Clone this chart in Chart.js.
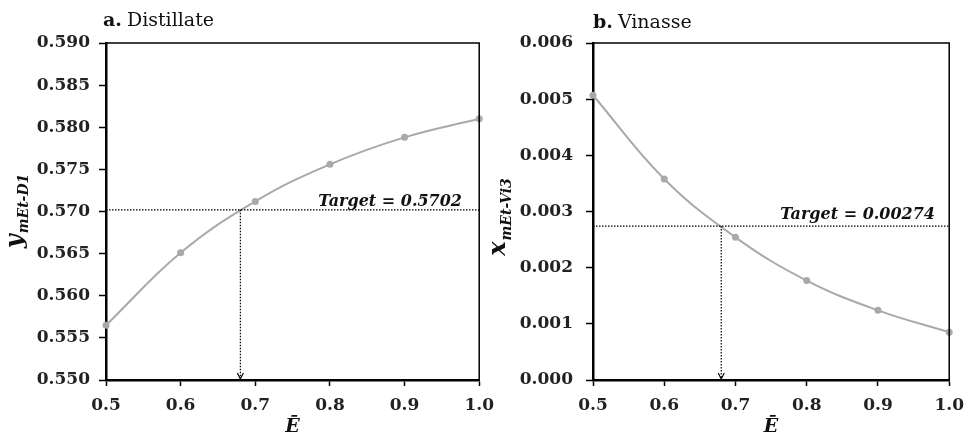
<!DOCTYPE html>
<html>
<head>
<meta charset="utf-8">
<script src="https://cdn.jsdelivr.net/npm/chart.js@4.4.1/dist/chart.umd.min.js"></script>
<style>
    html, body { margin: 0; padding: 0; background: #fff; }
    #wrap { position: relative; width: 965px; height: 436px; overflow: hidden; }
    .panel { position: absolute; top: 0; height: 436px; }
    #panelA { left: 0; width: 503px; }
    #panelB { left: 480px; width: 493px; }
</style>
</head>
<body>
<div id="wrap">
    <div class="panel" id="panelA"><canvas id="chartA"></canvas></div>
    <div class="panel" id="panelB"><canvas id="chartB"></canvas></div>
</div>
<script>
// --- DATOS ---
const eBar = [0.5, 0.6, 0.7, 0.8, 0.9, 1.0];
const yDistillate = [0.5565, 0.5651, 0.5712, 0.5756, 0.5788, 0.5810];
const xVinasse = [0.00507, 0.00358, 0.00254, 0.00177, 0.00124, 0.00085];

const targetDistillate = 0.5702;
const targetVinasse = 0.00274;
const eTarget = 0.68;

const SERIF = '"DejaVu Serif", serif';
const GREY = '#a9a9a9';

// Titulo del panel, etiqueta del eje Y con subindice, linea objetivo y flecha
const annotate = {
    id: 'annotate',
    afterDraw(chart, args, o) {
        const { ctx, chartArea: ca, scales } = chart;
        const xs = scales.x, ys = scales.y;
        ctx.save();

        // marco superior y derecho
        ctx.strokeStyle = '#000';
        ctx.lineWidth = 1.5;
        ctx.beginPath();
        ctx.moveTo(ca.left, ca.top);
        ctx.lineTo(ca.right, ca.top);
        ctx.lineTo(ca.right, ca.bottom);
        ctx.stroke();

        // titulo "a. Distillate"
        ctx.fillStyle = '#111';
        ctx.textBaseline = 'alphabetic';
        ctx.textAlign = 'left';
        ctx.font = 'bold 19px ' + SERIF;
        ctx.fillText(o.tag, o.titleX, o.titleY);
        const wTag = ctx.measureText(o.tag).width + 5;
        ctx.font = '19px ' + SERIF;
        ctx.fillText(o.title, o.titleX + wTag, o.titleY);

        // linea objetivo horizontal
        const ty = ys.getPixelForValue(o.target);
        const tx = xs.getPixelForValue(eTarget);
        ctx.strokeStyle = '#000';
        ctx.lineWidth = 1.2;
        ctx.setLineDash([1.5, 1.5]);
        ctx.beginPath();
        ctx.moveTo(ca.left, ty);
        ctx.lineTo(ca.right, ty);
        ctx.stroke();

        // linea vertical hasta el eje X
        ctx.beginPath();
        ctx.moveTo(tx, ty);
        ctx.lineTo(tx, ca.bottom - 2);
        ctx.stroke();
        ctx.setLineDash([]);
        ctx.beginPath();
        ctx.moveTo(tx - 3, ca.bottom - 7);
        ctx.lineTo(tx, ca.bottom - 1);
        ctx.lineTo(tx + 3, ca.bottom - 7);
        ctx.stroke();

        // texto del objetivo
        ctx.font = 'italic bold 16px ' + SERIF;
        ctx.textAlign = 'right';
        ctx.fillStyle = '#111';
        ctx.fillText(o.targetLabel, o.targetRight, ty - o.targetGap);

        // titulo eje X
        ctx.textAlign = 'center';
        ctx.font = 'italic bold 19px ' + SERIF;
        ctx.fillText('Ē', (ca.left + ca.right) / 2, 432);

        // titulo eje Y con subindice (rotado)
        ctx.translate(o.yTitleX, (ca.top + ca.bottom) / 2 + o.yTitleShift);
        ctx.rotate(-Math.PI / 2);
        ctx.textAlign = 'left';
        ctx.font = 'italic bold 24px ' + SERIF;
        const wMain = ctx.measureText(o.yMain).width;
        ctx.font = 'italic bold 14px ' + SERIF;
        const wSub = ctx.measureText(o.ySub).width;
        const start = -(wMain + wSub) / 2;
        ctx.font = 'italic bold 24px ' + SERIF;
        ctx.fillText(o.yMain, start, 0);
        ctx.font = 'italic bold 14px ' + SERIF;
        ctx.fillText(o.ySub, start + wMain + 1, 6);

        ctx.restore();
    }
};

function makeChart(id, values, yMin, yMax, yStep, yWidth, note) {
    const ctx = document.getElementById(id).getContext('2d');
    return new Chart(ctx, {
        type: 'line',
        data: {
            datasets: [{
                data: eBar.map((e, i) => ({ x: e, y: values[i] })),
                borderColor: GREY,
                backgroundColor: GREY,
                borderWidth: 2,
                pointRadius: 3.5,
                pointBorderWidth: 0,
                tension: 0.4,
                clip: false
            }]
        },
        options: {
            responsive: true,
            maintainAspectRatio: false,
            animation: false,
            events: [],
            layout: { padding: { top: 43, right: 0, left: 0, bottom: 0 } },
            plugins: {
                legend: { display: false },
                tooltip: { enabled: false },
                annotate: note
            },
            scales: {
                x: {
                    type: 'linear',
                    min: 0.5, max: 1.0,
                    afterFit: s => { s.height = 56; },
                    border: { display: true, color: '#000', width: 2.5 },
                    grid: { drawOnChartArea: false, color: '#000', tickLength: 6, tickWidth: 1.5 },
                    ticks: {
                        stepSize: 0.1,
                        padding: 9,
                        color: '#222',
                        font: { family: SERIF, size: 17, weight: 'bold' },
                        callback: v => v.toFixed(1)
                    }
                },
                y: {
                    min: yMin, max: yMax,
                    afterFit: s => { s.width = yWidth; },
                    border: { display: true, color: '#000', width: 2.5 },
                    grid: { drawOnChartArea: false, color: '#000', tickLength: 7, tickWidth: 1.5 },
                    ticks: {
                        stepSize: yStep,
                        padding: note.tickPad,
                        color: '#222',
                        font: { family: SERIF, size: 17, weight: 'bold' },
                        callback: v => v.toFixed(3)
                    }
                }
            }
        },
        plugins: [annotate]
    });
}

makeChart('chartA', yDistillate, 0.55, 0.59, 0.005, 106, {
    tag: 'a.', title: 'Distillate', titleX: 103, titleY: 26,
    target: targetDistillate, targetLabel: 'Target = 0.5702', targetRight: 462, targetGap: 4,
    yMain: 'y', ySub: 'mEt-D1', yTitleX: 22, yTitleShift: 0, tickPad: 9
});

makeChart('chartB', xVinasse, 0, 0.006, 0.001, 113, {
    tag: 'b.', title: 'Vinasse', titleX: 113, titleY: 28,
    target: targetVinasse, targetLabel: 'Target = 0.00274', targetRight: 455, targetGap: 7,
    yMain: 'x', ySub: 'mEt-Vi3', yTitleX: 25, yTitleShift: 6, tickPad: 13
});
</script>
</body>
</html>
